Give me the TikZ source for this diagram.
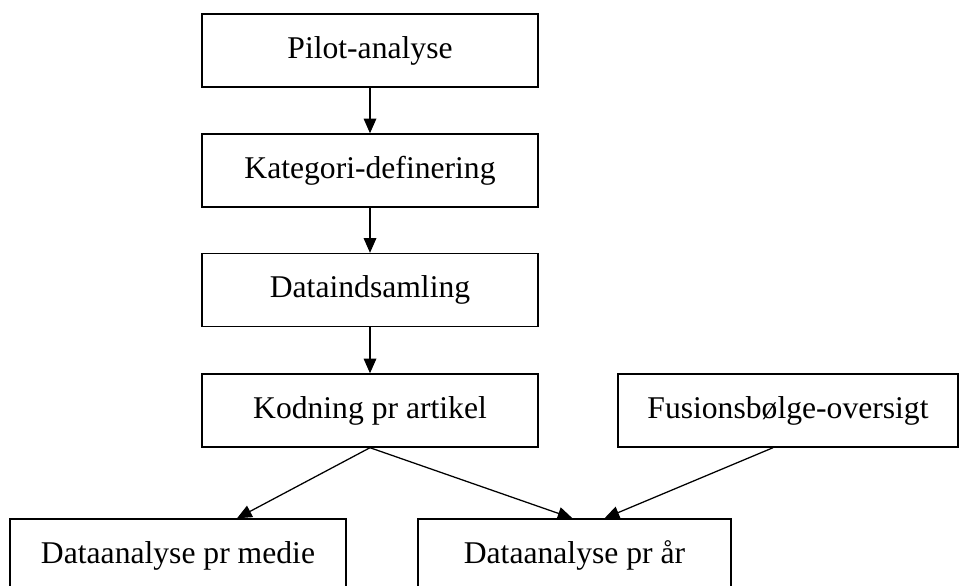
\documentclass[tikz,border=0pt]{standalone}
\usepackage{fontspec}
\setmainfont{Liberation Serif}
\usetikzlibrary{arrows.meta,positioning,calc}

\begin{document}
\begin{tikzpicture}[
  stepbox/.style={draw, line width=1pt, minimum height=1.825cm, inner sep=0pt, font=\fontsize{22.5}{27}\selectfont},
  flow/.style={line width=0.9pt, -{Triangle[width=9pt,length=10.5pt]}}
]
  \useasboundingbox (0,0) rectangle (24,-14.625);
  \clip (0,0) rectangle (24,-14.625);

  % Main column
  \node[stepbox, minimum width=8.4cm] (pilot) at (9.25,-1.2625) {Pilot-analyse};
  \node[stepbox, minimum width=8.4cm] (kat) at (9.25,-4.2625) {Kategori-definering};
  \node[stepbox, minimum width=8.4cm] (data) at (9.25,-7.25) {Dataindsamling};
  \node[stepbox, minimum width=8.4cm] (kod) at (9.25,-10.2625) {Kodning pr artikel};

  % Side input
  \node[stepbox, minimum width=8.5cm] (fus) at (19.7,-10.2625) {Fusionsbølge-oversigt};

  % Analysis boxes
  \node[stepbox, minimum width=8.4cm] (medie) at (4.45,-13.8875) {Dataanalyse pr medie};
  \node[stepbox, minimum width=7.825cm] (aar) at (14.3625,-13.8875) {Dataanalyse pr år};

  % Connectors
  \draw[flow] (pilot) -- (kat);
  \draw[flow] (kat) -- (data);
  \draw[flow] (data) -- (kod);
  \draw[flow] (kod.south) -- ($(medie.north)+(1.475,0)$);
  \draw[flow] (kod.south) -- ($(aar.north)+(-0.05,0)$);
  \draw[flow] ($(fus.south)+(-0.375,0)$) -- ($(aar.north)+(0.75,0)$);
\end{tikzpicture}
\end{document}
